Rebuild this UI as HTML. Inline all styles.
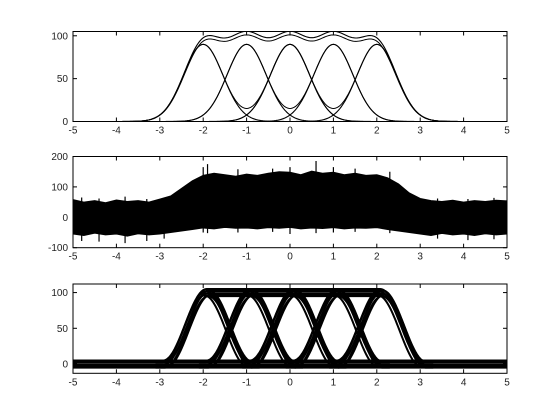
<!DOCTYPE html>
<html><head><meta charset="utf-8"><style>
html,body{margin:0;padding:0;background:#fff;}
svg{display:block;font-family:"Liberation Sans",sans-serif;}
</style></head><body>
<svg id="fig" width="560" height="420" viewBox="0 0 560 420"></svg>
<script>
// ---- data ----
const xTicks = [-5,-4,-3,-2,-1,0,1,2,3,4,5];
const pulseCenters1 = [-2,-1,0,1,2];
const pulseAmp1 = 90;
const pulseSigma1 = 0.45;
const yTicks1 = [0,50,100];
const yTicks2 = [-100,0,100,200];
const yTicks3 = [0,50,100];
const envX = [-5,-4.75,-4.5,-4.25,-4,-3.75,-3.5,-3.25,-3,-2.75,-2.5,-2.25,-2,-1.75,-1.5,-1.25,-1,-0.75,-0.5,-0.25,0,0.25,0.5,0.75,1,1.25,1.5,1.75,2,2.25,2.5,2.75,3,3.25,3.5,3.75,4,4.25,4.5,4.75,5];
const envUpper = [58,50,55,48,57,52,55,50,60,70,95,120,138,145,140,135,142,138,145,150,148,140,152,145,148,140,145,138,140,130,110,80,62,55,52,56,50,55,52,56,54];
const envLower = [-55,-60,-52,-58,-55,-62,-54,-58,-55,-50,-45,-40,-35,-38,-33,-36,-35,-38,-34,-36,-33,-38,-35,-37,-34,-38,-35,-36,-34,-40,-45,-50,-55,-60,-53,-58,-55,-60,-54,-58,-55];
const spikeX = [-4.8,-4.4,-3.8,-3.3,-2.9,-2.0,-1.9,-1.2,-0.4,0.0,0.6,1.0,1.5,2.3,3.4,4.1,4.7];
const spikeHi = [65,62,68,60,62,165,175,158,160,165,185,165,160,150,62,60,64];
const spikeLo = [-78,-80,-85,-78,-70,-50,-52,-50,-48,-55,-52,-50,-48,-52,-70,-75,-72];
const pulseCenters3 = [-1.9,-0.9,0.1,1.1,2.1];
const pulseAmp3 = 100;
const plateauStart = -1.9, plateauEnd = 2.1;

const NS="http://www.w3.org/2000/svg";
const svg=document.getElementById('fig');
const L=73,R=507;
function mk(tag,attrs,parent){const e=document.createElementNS(NS,tag);for(const k in attrs)e.setAttribute(k,attrs[k]);(parent||svg).appendChild(e);return e;}
const sx=v=>L+(v+5)/10*(R-L);
function axisY(top,bot,y0,y1){return v=>bot-(v-y0)/(y1-y0)*(bot-top);}

function drawAxes(g,top,bot,sy,yt,name){
  const box=mk('rect',{x:L,y:top,width:R-L,height:bot-top,fill:'none',stroke:'#000','stroke-width':1},g);
  
  
  xTicks.forEach(t=>{
    const x=sx(t);
    mk('line',{x1:x,y1:bot,x2:x,y2:bot-4,stroke:'#000'},g);
    mk('line',{x1:x,y1:top,x2:x,y2:top+4,stroke:'#000'},g);
    const tx=mk('text',{x:x,y:bot+12,'font-size':10,'text-anchor':'middle',fill:'#222'},g);
    tx.textContent=t;
    
    
  });
  yt.forEach(t=>{
    const y=sy(t);
    mk('line',{x1:L,y1:y,x2:L+4,y2:y,stroke:'#000'},g);
    mk('line',{x1:R,y1:y,x2:R-4,y2:y,stroke:'#000'},g);
    const tx=mk('text',{x:L-5,y:y+3.5,'font-size':10,'text-anchor':'end',fill:'#222'},g);
    tx.textContent=t;
    
    
  });
}
function pathFrom(fn,sy,x0,x1,n){let d='';for(let i=0;i<=n;i++){const x=x0+(x1-x0)*i/n;d+=(i?'L':'M')+sx(x).toFixed(2)+' '+sy(fn(x)).toFixed(2);}return d;}

// ---- panel 1 ----
const g1=mk('g',{});


const sy1=axisY(31.5,121.5,0,105);
const gp=x=>c=>pulseAmp1*Math.exp(-(x-c)*(x-c)/(2*pulseSigma1*pulseSigma1));
const clip1=mk('clipPath',{id:'c1'});mk('rect',{x:L,y:31.5,width:R-L,height:90},clip1);
const cg1=mk('g',{'clip-path':'url(#c1)'},g1);
pulseCenters1.forEach((c,i)=>{
  const p=mk('path',{d:pathFrom(x=>gp(x)(c),sy1,-5,5,400),fill:'none',stroke:'#000','stroke-width':1.1},cg1);
  
  
});
for(let i=0;i+2<pulseCenters1.length;i++){
  const a=pulseCenters1[i],b=pulseCenters1[i+2];
  const p=mk('path',{d:pathFrom(x=>gp(x)(a)+gp(x)(b),sy1,-5,5,400),fill:'none',stroke:'#000','stroke-width':1},cg1);
  
  
}
const tot=mk('path',{d:pathFrom(x=>pulseCenters1.reduce((s,c)=>s+gp(x)(c),0),sy1,-5,5,400),fill:'none',stroke:'#000','stroke-width':1.1},cg1);


const tot2=mk('path',{d:pathFrom(x=>pulseCenters1.reduce((s,c)=>s+gp(x)(c),0)*0.96,sy1,-5,5,400),fill:'none',stroke:'#000','stroke-width':1},cg1);


drawAxes(g1,31.5,121.5,sy1,yTicks1,'top');

// ---- panel 2 ----
const g2=mk('g',{});


const sy2=axisY(156.5,247.7,-100,200);
const clip2=mk('clipPath',{id:'c2'});mk('rect',{x:L,y:156.5,width:R-L,height:91.2},clip2);
const cg2=mk('g',{'clip-path':'url(#c2)'},g2);
let d='';
envX.forEach((x,i)=>{d+=(i?'L':'M')+sx(x)+' '+sy2(envUpper[i]);});
for(let i=envX.length-1;i>=0;i--)d+='L'+sx(envX[i])+' '+sy2(envLower[i]);
const band=mk('path',{d:d+'Z',fill:'#000',stroke:'#000','stroke-width':1,'stroke-linejoin':'miter'},cg2);


spikeX.forEach((x,i)=>{
  const s=mk('line',{x1:sx(x),x2:sx(x),y1:sy2(spikeHi[i]),y2:sy2(spikeLo[i]),stroke:'#000','stroke-width':1.2},cg2);
  
  
});
drawAxes(g2,156.5,247.7,sy2,yTicks2,'middle');

// ---- panel 3 ----
const g3=mk('g',{});


const sy3=axisY(284,373.3,-13,112);
const clip3=mk('clipPath',{id:'c3'});mk('rect',{x:L,y:284,width:R-L,height:89.3},clip3);
const cg3=mk('g',{'clip-path':'url(#c3)'},g3);
const rc=c=>x=>{const u=x-c;return Math.abs(u)<1?pulseAmp3*Math.pow(Math.cos(Math.PI*u/2),2):0;};
const jit=[[-0.07,-4],[-0.035,2],[0,-1],[0.035,3],[0.07,-3],[-0.02,5],[0.02,-5]];
jit.forEach(([dx,dy])=>{
  const sh=v=>sy3(v+dy);
  pulseCenters3.forEach((c,i)=>{
    const p=mk('path',{d:pathFrom(x=>rc(c)(x-dx),sh,c-1.2,c+1.2,120),fill:'none',stroke:'#000','stroke-width':2},cg3);
    
    
  });
  const pl=mk('line',{x1:sx(plateauStart+dx),x2:sx(plateauEnd+dx),y1:sh(100),y2:sh(100),stroke:'#000','stroke-width':2},cg3);
  
  
  const bl=mk('line',{x1:L,x2:R,y1:sh(0),y2:sh(0),stroke:'#000','stroke-width':2},cg3);
  
  
});
drawAxes(g3,284,373.3,sy3,yTicks3,'bottom');
</script>
</body></html>
